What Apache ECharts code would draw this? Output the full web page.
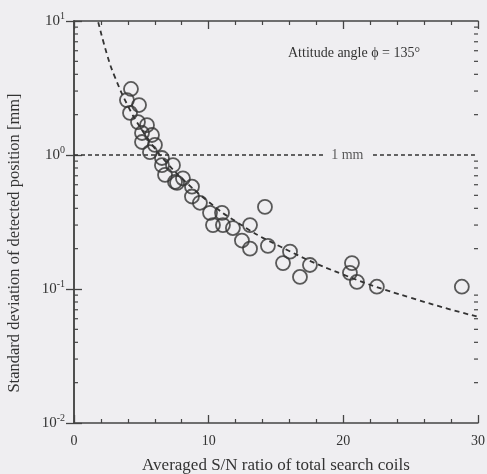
<!DOCTYPE html>
<html>
<head>
<meta charset="utf-8">
<script src="https://cdn.jsdelivr.net/npm/echarts@6/dist/echarts.min.js"></script>
<style>
  html, body { margin: 0; padding: 0; background: #efeef1; }
  #chart { width: 487px; height: 474px; }
</style>
</head>
<body>
<div id="chart"></div>
<script>
// Measured points: averaged S/N ratio vs. standard deviation of detected position (mm)
const snRatio = [4.23, 3.93, 4.83, 4.16, 4.75, 5.42, 5.05, 5.79, 5.05, 6.01, 5.64, 6.53, 6.53, 7.35, 6.76,
  7.65, 8.09, 7.50, 8.76, 8.76, 9.35, 10.10, 10.99, 10.32, 11.06, 11.80, 13.07, 14.18, 12.47, 13.07,
  14.40, 16.04, 15.52, 16.78, 17.52, 20.64, 20.49, 21.01, 22.49, 28.80];
const stdDev = [3.11, 2.57, 2.36, 2.06, 1.76, 1.67, 1.46, 1.41, 1.25, 1.19, 1.05, 0.95, 0.84, 0.84, 0.71,
  0.62, 0.67, 0.63, 0.58, 0.49, 0.44, 0.37, 0.37, 0.30, 0.30, 0.285, 0.30, 0.41, 0.23, 0.20,
  0.21, 0.19, 0.156, 0.123, 0.151, 0.156, 0.132, 0.113, 0.104, 0.104];

// Fitted trend curve (dashed)
const fitX = [1.8, 2.5, 3, 4, 5, 6, 7, 8, 10, 12, 15, 20, 25, 30];
const fitY = [9.8, 5.42, 3.9, 2.33, 1.56, 1.12, 0.85, 0.67, 0.447, 0.32, 0.215, 0.128, 0.086, 0.062];

// 1 mm reference level, broken around its label
const refLevel = 1;
const refLeftX = [0, 18.6];
const refRightX = [22.2, 30];
const refLabelX = 20.3;
const refLabel = '1 mm';

// Axis ticks
const xTicks = [0, 10, 20, 30];
const yDecades = [0.01, 0.1, 1, 10];
const yMinorTicks = [];
for (let d = 0; d < yDecades.length - 1; d++) {
  for (let m = 2; m <= 9; m++) yMinorTicks.push(+(m * yDecades[d]).toPrecision(3));
}

const ink = '#333';
const serif = '"Liberation Serif", "DejaVu Serif", serif';

const chart = echarts.init(document.getElementById('chart'));

const pts = snRatio.map((x, i) => [x, stdDev[i]]);
const fit = fitX.map((x, i) => [x, fitY[i]]);

const xAxisBase = {
  type: 'value', min: xTicks[0], max: xTicks[xTicks.length - 1], interval: 10,
  axisLine: { show: true, lineStyle: { color: '#444', width: 1.5 } },
  axisTick: { show: true, inside: true, length: 8, lineStyle: { color: '#444', width: 1.3 } },
  minorTick: { show: true, splitNumber: 5, length: 4, lineStyle: { color: '#444', width: 1.2 } },
  splitLine: { show: false }
};
const yAxisBase = {
  type: 'log', logBase: 10, min: yDecades[0], max: yDecades[yDecades.length - 1],
  axisLine: { show: true, lineStyle: { color: '#444', width: 1.5 } },
  axisTick: { show: true, inside: true, length: 8, lineStyle: { color: '#444', width: 1.3 } },
  minorTick: { show: false },
  splitLine: { show: false }
};

chart.setOption({
  backgroundColor: '#efeef1',
  animation: false,
  grid: { left: 74, right: 9, top: 21, bottom: 51, outerBoundsMode: 'none', containLabel: false },
  xAxis: [
    Object.assign({}, xAxisBase, {
      position: 'bottom',
      axisLabel: { margin: 11, color: ink, fontFamily: serif, fontSize: 14 },
      name: 'Averaged S/N ratio of total search coils',
      nameLocation: 'middle', nameGap: 34,
      nameTextStyle: { color: ink, fontFamily: serif, fontSize: 17 }
    }),
    Object.assign({}, xAxisBase, { position: 'top', axisLabel: { show: false } })
  ],
  yAxis: [
    Object.assign({}, yAxisBase, {
      position: 'left',
      axisLabel: {
        margin: 9, color: ink,
        formatter: v => '{b|10}{s|' + Math.round(Math.log10(v)) + '}',
        rich: {
          b: { fontFamily: serif, fontSize: 15, color: ink },
          s: { fontFamily: serif, fontSize: 10, color: ink, padding: [0, 0, 9, 0] }
        }
      }
    }),
    Object.assign({}, yAxisBase, { position: 'right', axisLabel: { show: false } })
  ],
  graphic: [
    {
      type: 'text', left: 288, top: 46,
      style: { text: 'Attitude angle \u03D5 = 135\u00B0', fill: ink, font: '14px ' + serif }
    },
    {
      type: 'text', x: 15, y: 243, rotation: Math.PI / 2,
      style: {
        text: 'Standard deviation of detected position [mm]', fill: ink,
        font: '16.5px ' + serif, align: 'center', verticalAlign: 'middle'
      }
    }
  ],
  series: [
    {
      // minor log ticks on both vertical axes
      type: 'custom', silent: true, z: 3,
      data: yMinorTicks.map(v => [xTicks[0], v]),
      encode: { x: 0, y: 1 },
      renderItem: (params, api) => {
        const v = api.value(1);
        const l = api.coord([xTicks[0], v]);
        const r = api.coord([xTicks[xTicks.length - 1], v]);
        const st = { stroke: '#444', lineWidth: 1.2 };
        return {
          type: 'group',
          children: [
            { type: 'line', shape: { x1: l[0], y1: l[1], x2: l[0] + 4, y2: l[1] }, style: st },
            { type: 'line', shape: { x1: r[0], y1: r[1], x2: r[0] - 4, y2: r[1] }, style: st }
          ]
        };
      }
    },
    {
      type: 'line', data: refLeftX.map(x => [x, refLevel]), symbol: 'none', silent: true,
      lineStyle: { color: ink, width: 1.6, type: [4, 3] }
    },
    {
      type: 'line', data: refRightX.map(x => [x, refLevel]), symbol: 'none', silent: true,
      lineStyle: { color: ink, width: 1.6, type: [4, 3] }
    },
    {
      type: 'scatter', data: [[refLabelX, refLevel]], symbolSize: 0, silent: true,
      label: { show: true, position: 'inside', formatter: refLabel, color: ink, fontFamily: serif, fontSize: 14 }
    },
    {
      type: 'line', data: fit, symbol: 'none', smooth: true, silent: true,
      lineStyle: { color: ink, width: 1.8, type: [5, 4] }
    },
    {
      type: 'scatter', data: pts, symbol: 'circle', symbolSize: 14, z: 5,
      itemStyle: { color: 'rgba(0,0,0,0)', borderColor: ink, borderWidth: 1.8 }
    }
  ]
});
</script>
</body>
</html>
